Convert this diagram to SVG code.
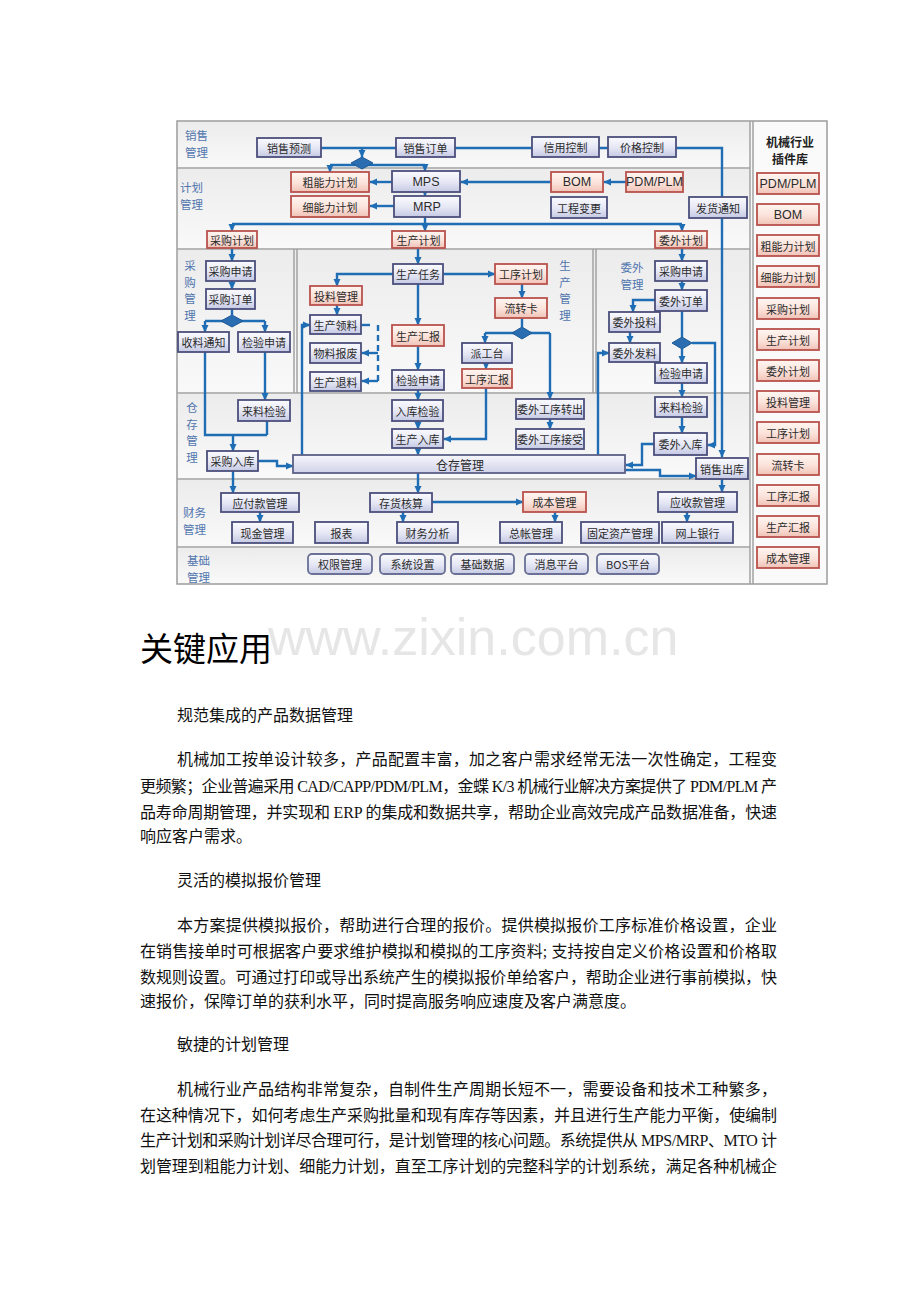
<svg xmlns="http://www.w3.org/2000/svg" width="920" height="1302" viewBox="0 0 920 1302">
<defs>
<linearGradient id="gb" x1="0" y1="0" x2="0" y2="1"><stop offset="0" stop-color="#fbfbfe"/><stop offset="0.55" stop-color="#e4e6f4"/><stop offset="1" stop-color="#c5c9e3"/></linearGradient>
<linearGradient id="gr" x1="0" y1="0" x2="0" y2="1"><stop offset="0" stop-color="#fff6f2"/><stop offset="0.55" stop-color="#fbe2da"/><stop offset="1" stop-color="#f0c2b6"/></linearGradient>
<linearGradient id="gs" x1="0" y1="0" x2="0" y2="1"><stop offset="0" stop-color="#ececec"/><stop offset="1" stop-color="#f9f9f9"/></linearGradient>
<linearGradient id="gw" x1="0" y1="0" x2="0" y2="1"><stop offset="0" stop-color="#f7f7fc"/><stop offset="1" stop-color="#cfd2e8"/></linearGradient>
<marker id="a" markerWidth="8" markerHeight="8" refX="7" refY="4" orient="auto" markerUnits="userSpaceOnUse"><path d="M0,0.5 L7.5,4 L0,7.5 z" fill="#1f6db4"/></marker>
</defs>
<style>
.sec{fill:url(#gs);stroke:none}
.sep{stroke:#a2a2a2;stroke-width:1.5;fill:none}
.b{fill:url(#gb);stroke:#4b4f7c;stroke-width:1.8}
.r{fill:url(#gr);stroke:#b9524c;stroke-width:1.8}
.f{fill:url(#gb);stroke:#6b7196;stroke-width:1.8}
.t{font-family:'Noto Sans CJK SC',sans-serif;font-size:11px;fill:#2b2b2b;text-anchor:middle;dominant-baseline:central}
.te{font-family:'Liberation Sans','Noto Sans CJK SC',sans-serif;font-size:12.5px;fill:#2b2b2b;text-anchor:middle;dominant-baseline:central}
.l{font-family:'Noto Sans CJK SC',sans-serif;font-size:11.5px;fill:#5176ae;dominant-baseline:central}
.lc{font-family:'Noto Sans CJK SC',sans-serif;font-size:11.5px;fill:#5176ae;dominant-baseline:central;text-anchor:middle}
.c{fill:none;stroke:#1f6db4;stroke-width:2.4}
.ca{fill:none;stroke:#1f6db4;stroke-width:2.4;marker-end:url(#a)}
.d{fill:#2a6db0;stroke:#1d5a98;stroke-width:1}
.p{font-family:'Liberation Serif','Noto Sans CJK SC',serif;font-size:16px;fill:#111}
</style>
<rect width="920" height="1302" fill="#ffffff"/>

<g id="frame">
<rect x="177" y="121" width="650" height="463" fill="#f7f7f7" stroke="#9c9c9c" stroke-width="1.5"/>
<rect class="sec" x="178" y="122" width="572" height="45"/>
<rect class="sec" x="178" y="169" width="572" height="79"/>
<rect class="sec" x="178" y="250" width="572" height="142"/>
<rect class="sec" x="178" y="394" width="572" height="84"/>
<rect class="sec" x="178" y="480" width="572" height="66"/>
<rect class="sec" x="178" y="548" width="572" height="35"/>
<rect x="753" y="122" width="73" height="461" fill="#fafafa"/>
<path class="sep" d="M177,168 H750 M177,249 H750 M177,393 H750 M177,479 H750 M177,547 H750"/>
<path class="sep" d="M750,121 V584 M753,121 V584"/>
<path class="sep" d="M294,249 V393 M297,249 V393 M593,249 V393 M596,249 V393"/>
</g>

<g id="labels">
<text class="l" x="185" y="135">销售</text><text class="l" x="185" y="152">管理</text>
<text class="l" x="180" y="187">计划</text><text class="l" x="180" y="204">管理</text>
<text class="lc" x="190" y="265">采</text><text class="lc" x="190" y="281.5">购</text><text class="lc" x="190" y="298">管</text><text class="lc" x="190" y="314.5">理</text>
<text class="lc" x="565" y="265">生</text><text class="lc" x="565" y="281.5">产</text><text class="lc" x="565" y="298">管</text><text class="lc" x="565" y="314.5">理</text>
<text class="lc" x="632" y="267">委外</text><text class="lc" x="632" y="284">管理</text>
<text class="lc" x="192" y="407">仓</text><text class="lc" x="192" y="423.5">存</text><text class="lc" x="192" y="440">管</text><text class="lc" x="192" y="456.5">理</text>
<text class="l" x="183" y="512">财务</text><text class="l" x="183" y="529">管理</text>
<text class="l" x="187" y="560">基础</text><text class="l" x="187" y="577">管理</text>
</g>

<g id="connectors">
<path class="c" d="M321,148 H396 M455,148 H532 M599,148 H608"/>
<path class="ca" d="M676,148 H722 V457"/>
<path class="ca" d="M362,148 V157"/>
<path class="c" d="M330,165 H425"/>
<path class="ca" d="M330,165 V172"/>
<path class="ca" d="M425,165 V171"/>
<path class="ca" d="M551,182 H461"/>
<path class="ca" d="M626,182 H604"/>
<path class="ca" d="M392,182 H370"/>
<path class="ca" d="M394,206 H370"/>
<path class="ca" d="M425,192 V196"/>
<path class="c" d="M425,217 V224 M232,224 H682"/>
<path class="ca" d="M232,224 V231"/>
<path class="ca" d="M425,224 V231"/>
<path class="ca" d="M682,224 V231"/>
<path class="ca" d="M232,248 V261"/>
<path class="ca" d="M232,281 V289"/>
<path class="c" d="M232,309 V315 M205,321 H265"/>
<path class="ca" d="M205,321 V332"/>
<path class="ca" d="M265,321 V332"/>
<path class="c" d="M205,352 V435 H267 M267,421 V435"/>
<path class="ca" d="M265,352 V400"/>
<path class="ca" d="M233,435 V451"/>
<path class="ca" d="M258,461 H277 V466 H293"/>
<path class="ca" d="M233,471 V493"/>
<path class="ca" d="M418,248 V264"/>
<path class="ca" d="M393,274 H337 V286"/>
<path class="ca" d="M337,305 V315"/>
<path class="c" d="M361,325 H370" />
<path class="c" d="M378,325 V383" stroke-dasharray="6,4"/>
<path class="ca" d="M378,353 H362"/>
<path class="ca" d="M378,381 H362"/>
<path class="ca" d="M302,455 V325 H310"/>
<path class="ca" d="M418,284 V325"/>
<path class="ca" d="M418,346 V370"/>
<path class="ca" d="M418,390 V400"/>
<path class="ca" d="M418,421 V429"/>
<path class="ca" d="M418,448 V455"/>
<path class="ca" d="M418,473 V493"/>
<path class="ca" d="M443,274 H495"/>
<path class="ca" d="M522,284 V298"/>
<path class="c" d="M522,318 V327 M485,333 H550"/>
<path class="ca" d="M485,333 V343"/>
<path class="ca" d="M550,333 V399"/>
<path class="ca" d="M486,363 V369"/>
<path class="ca" d="M486,388 V439 H444"/>
<path class="ca" d="M550,419 V429"/>
<path class="ca" d="M682,248 V261"/>
<path class="ca" d="M682,281 V290"/>
<path class="ca" d="M655,300 H633 V312"/>
<path class="ca" d="M630,332 V343"/>
<path class="ca" d="M598,455 V353 H609"/>
<path class="c" d="M682,311 V337"/>
<path class="ca" d="M682,349 V363"/>
<path class="ca" d="M692,343 H715 V445 H708"/>
<path class="ca" d="M682,383 V397"/>
<path class="ca" d="M682,417 V433"/>
<path class="ca" d="M654,444 H642 V465 H626"/>
<path class="ca" d="M625,470 H660 V476 H696"/>
<path class="ca" d="M722,479 V492"/>
<path class="ca" d="M260,512 V522"/>
<path class="ca" d="M403,512 V522"/>
<path class="ca" d="M432,502 H523"/>
<path class="ca" d="M555,512 V522"/>
<path class="ca" d="M687,512 V522"/>
<polygon class="d" points="362,157 373,163 362,169 351,163"/>
<polygon class="d" points="232,315 243,321 232,327 221,321"/>
<polygon class="d" points="522,327 532,333 522,339 512,333"/>
<polygon class="d" points="682,337 692,343 682,349 672,343"/>
</g>

<g id="n-xsyc"><rect class="b" x="257" y="138" width="64" height="19"/><text class="t" x="289" y="147.5">销售预测</text></g>
<g id="n-xsdd"><rect class="b" x="396" y="138" width="59" height="19"/><text class="t" x="425.5" y="147.5">销售订单</text></g>
<g id="n-xykz"><rect class="b" x="532" y="137" width="67" height="20"/><text class="t" x="565.5" y="147">信用控制</text></g>
<g id="n-jgkz"><rect class="b" x="608" y="137" width="68" height="20"/><text class="t" x="642" y="147">价格控制</text></g>

<g id="n-cnljh"><rect class="r" x="291" y="172" width="78" height="20"/><text class="t" x="330" y="182">粗能力计划</text></g>
<g id="n-mps"><rect class="b" x="392" y="171" width="68" height="21"/><text class="te" x="426" y="181.5">MPS</text></g>
<g id="n-xnljh"><rect class="r" x="291" y="196" width="78" height="21"/><text class="t" x="330" y="206.5">细能力计划</text></g>
<g id="n-mrp"><rect class="b" x="394" y="196" width="66" height="21"/><text class="te" x="427" y="206.5">MRP</text></g>
<g id="n-bom"><rect class="r" x="551" y="172" width="52" height="20"/><text class="te" x="577" y="182">BOM</text></g>
<g id="n-pdm"><rect class="r" x="626" y="172" width="57" height="20"/><text class="te" x="654.5" y="182">PDM/PLM</text></g>
<g id="n-gcbg"><rect class="b" x="551" y="197" width="56" height="21"/><text class="t" x="579" y="207.5">工程变更</text></g>
<g id="n-fhtz"><rect class="b" x="689" y="197" width="58" height="21"/><text class="t" x="718" y="207.5">发货通知</text></g>
<g id="n-cgjh"><rect class="r" x="207" y="231" width="50" height="17"/><text class="t" x="232" y="239.5">采购计划</text></g>
<g id="n-scjh"><rect class="r" x="392" y="231" width="53" height="17"/><text class="t" x="418.5" y="239.5">生产计划</text></g>
<g id="n-wwjh"><rect class="r" x="655" y="231" width="52" height="17"/><text class="t" x="681" y="239.5">委外计划</text></g>

<g id="n-cgsq"><rect class="b" x="206" y="261" width="49" height="20"/><text class="t" x="230.5" y="271">采购申请</text></g>
<g id="n-cgdd"><rect class="b" x="206" y="289" width="49" height="20"/><text class="t" x="230.5" y="299">采购订单</text></g>
<g id="n-sltz"><rect class="b" x="178" y="332" width="51" height="20"/><text class="t" x="203.5" y="342">收料通知</text></g>
<g id="n-jysq1"><rect class="b" x="238" y="332" width="52" height="20"/><text class="t" x="264" y="342">检验申请</text></g>

<g id="n-scrw"><rect class="b" x="393" y="264" width="50" height="20"/><text class="t" x="418" y="274">生产任务</text></g>
<g id="n-tlgl"><rect class="r" x="310" y="286" width="52" height="19"/><text class="t" x="336" y="295.5">投料管理</text></g>
<g id="n-scll"><rect class="b" x="310" y="315" width="51" height="19"/><text class="t" x="335.5" y="324.5">生产领料</text></g>
<g id="n-wlbf"><rect class="b" x="310" y="343" width="51" height="20"/><text class="t" x="335.5" y="353">物料报废</text></g>
<g id="n-sctl"><rect class="b" x="310" y="372" width="51" height="19"/><text class="t" x="335.5" y="381.5">生产退料</text></g>
<g id="n-schb"><rect class="r" x="392" y="325" width="52" height="21"/><text class="t" x="418" y="335.5">生产汇报</text></g>
<g id="n-jysq2"><rect class="b" x="392" y="370" width="52" height="20"/><text class="t" x="418" y="380">检验申请</text></g>
<g id="n-gxjh"><rect class="r" x="495" y="264" width="52" height="20"/><text class="t" x="521" y="274">工序计划</text></g>
<g id="n-lzk"><rect class="r" x="495" y="298" width="52" height="20"/><text class="t" x="521" y="308">流转卡</text></g>
<g id="n-pgt"><rect class="b" x="462" y="343" width="50" height="20"/><text class="t" x="487" y="353">派工台</text></g>
<g id="n-gxhb"><rect class="r" x="462" y="369" width="50" height="19"/><text class="t" x="487" y="378.5">工序汇报</text></g>

<g id="n-wwsq"><rect class="b" x="655" y="261" width="52" height="20"/><text class="t" x="681" y="271">采购申请</text></g>
<g id="n-wwdd"><rect class="b" x="655" y="290" width="52" height="21"/><text class="t" x="681" y="300.5">委外订单</text></g>
<g id="n-wwtl"><rect class="b" x="609" y="312" width="51" height="20"/><text class="t" x="634.5" y="322">委外投料</text></g>
<g id="n-wwfl"><rect class="b" x="609" y="343" width="51" height="19"/><text class="t" x="634.5" y="352.5">委外发料</text></g>
<g id="n-jysq3"><rect class="b" x="655" y="363" width="52" height="20"/><text class="t" x="681" y="373">检验申请</text></g>

<g id="n-lljy1"><rect class="b" x="238" y="400" width="52" height="21"/><text class="t" x="264" y="410.5">来料检验</text></g>
<g id="n-cgrk"><rect class="b" x="207" y="451" width="51" height="20"/><text class="t" x="232.5" y="461">采购入库</text></g>
<g id="n-rkjy"><rect class="b" x="392" y="400" width="51" height="21"/><text class="t" x="417.5" y="410.5">入库检验</text></g>
<g id="n-scrk"><rect class="b" x="392" y="429" width="51" height="19"/><text class="t" x="417.5" y="438.5">生产入库</text></g>
<g id="n-wwgxzc"><rect class="b" x="516" y="399" width="68" height="20"/><text class="t" x="550" y="409">委外工序转出</text></g>
<g id="n-wwgxjs"><rect class="b" x="516" y="429" width="68" height="20"/><text class="t" x="550" y="439">委外工序接受</text></g>
<g id="n-lljy2"><rect class="b" x="655" y="397" width="52" height="20"/><text class="t" x="681" y="407">来料检验</text></g>
<g id="n-wwrk"><rect class="b" x="654" y="433" width="53" height="22"/><text class="t" x="680.5" y="444">委外入库</text></g>
<g id="n-ccgl"><rect x="293" y="455" width="332" height="18" fill="url(#gw)" stroke="#5b6088" stroke-width="1.8"/><text class="t" x="460" y="464" style="font-size:12px">仓存管理</text></g>
<g id="n-xsck"><rect class="b" x="696" y="458" width="52" height="21"/><text class="t" x="722" y="468.5">销售出库</text></g>

<g id="n-yfk"><rect class="b" x="221" y="493" width="78" height="19"/><text class="t" x="260" y="502.5">应付款管理</text></g>
<g id="n-xjgl"><rect class="b" x="232" y="522" width="61" height="21"/><text class="t" x="262.5" y="532.5">现金管理</text></g>
<g id="n-bb"><rect class="b" x="315" y="522" width="53" height="21"/><text class="t" x="341.5" y="532.5">报表</text></g>
<g id="n-chhs"><rect class="b" x="370" y="493" width="62" height="19"/><text class="t" x="401" y="502.5">存货核算</text></g>
<g id="n-cwfx"><rect class="b" x="397" y="522" width="61" height="21"/><text class="t" x="427.5" y="532.5">财务分析</text></g>
<g id="n-cbgl"><rect class="r" x="523" y="492" width="63" height="20"/><text class="t" x="554.5" y="502">成本管理</text></g>
<g id="n-zzgl"><rect class="b" x="500" y="522" width="62" height="21"/><text class="t" x="531" y="532.5">总帐管理</text></g>
<g id="n-gdzc"><rect class="b" x="581" y="522" width="78" height="21"/><text class="t" x="620" y="532.5">固定资产管理</text></g>
<g id="n-ysk"><rect class="b" x="658" y="492" width="79" height="20"/><text class="t" x="697.5" y="502">应收款管理</text></g>
<g id="n-wsyh"><rect class="b" x="662" y="522" width="71" height="21"/><text class="t" x="697.5" y="532.5">网上银行</text></g>

<g id="n-qxgl"><rect class="f" x="308" y="554" width="64" height="20" rx="4"/><text class="t" x="340" y="564">权限管理</text></g>
<g id="n-xtsz"><rect class="f" x="380" y="554" width="65" height="20" rx="4"/><text class="t" x="412.5" y="564">系统设置</text></g>
<g id="n-jcsj"><rect class="f" x="451" y="554" width="63" height="20" rx="4"/><text class="t" x="482.5" y="564">基础数据</text></g>
<g id="n-xxpt"><rect class="f" x="525" y="554" width="63" height="20" rx="4"/><text class="t" x="556.5" y="564">消息平台</text></g>
<g id="n-bos"><rect class="f" x="597" y="554" width="62" height="20" rx="4"/><text class="t" x="628" y="564">BOS平台</text></g>

<g id="plugin-lib">
<text x="790" y="141" text-anchor="middle" dominant-baseline="central" font-family="'Noto Sans CJK SC',sans-serif" font-size="12" font-weight="bold" fill="#222">机械行业</text>
<text x="790" y="158" text-anchor="middle" dominant-baseline="central" font-family="'Noto Sans CJK SC',sans-serif" font-size="12" font-weight="bold" fill="#222">插件库</text>
<g id="p1"><rect class="r" x="757" y="173" width="62" height="21"/><text class="te" x="788" y="183.5">PDM/PLM</text></g>
<g id="p2"><rect class="r" x="757" y="204" width="62" height="21"/><text class="te" x="788" y="214.5">BOM</text></g>
<g id="p3"><rect class="r" x="757" y="235" width="62" height="21"/><text class="t" x="788" y="245.5">粗能力计划</text></g>
<g id="p4"><rect class="r" x="757" y="266" width="62" height="21"/><text class="t" x="788" y="276.5">细能力计划</text></g>
<g id="p5"><rect class="r" x="757" y="298" width="62" height="21"/><text class="t" x="788" y="308.5">采购计划</text></g>
<g id="p6"><rect class="r" x="757" y="329" width="62" height="21"/><text class="t" x="788" y="339.5">生产计划</text></g>
<g id="p7"><rect class="r" x="757" y="360" width="62" height="21"/><text class="t" x="788" y="370.5">委外计划</text></g>
<g id="p8"><rect class="r" x="757" y="391" width="62" height="21"/><text class="t" x="788" y="401.5">投料管理</text></g>
<g id="p9"><rect class="r" x="757" y="422" width="62" height="21"/><text class="t" x="788" y="432.5">工序计划</text></g>
<g id="p10"><rect class="r" x="757" y="454" width="62" height="21"/><text class="t" x="788" y="464.5">流转卡</text></g>
<g id="p11"><rect class="r" x="757" y="485" width="62" height="21"/><text class="t" x="788" y="495.5">工序汇报</text></g>
<g id="p12"><rect class="r" x="757" y="516" width="62" height="21"/><text class="t" x="788" y="526.5">生产汇报</text></g>
<g id="p13"><rect class="r" x="757" y="547" width="62" height="21"/><text class="t" x="788" y="557.5">成本管理</text></g>
</g>

<g id="document-text">
<text x="268" y="655" font-family="'Liberation Sans',sans-serif" font-size="52" fill="#e6e6e6">www.zixin.com.cn</text>
<text x="140" y="661" font-family="'Noto Sans CJK SC',sans-serif" font-size="33" fill="#000">关键应用</text>
<text class="p" x="177" y="721">规范集成的产品数据管理</text>
<text class="p" x="177" y="765" textLength="600" lengthAdjust="spacing">机械加工按单设计较多，产品配置丰富，加之客户需求经常无法一次性确定，工程变</text>
<text class="p" x="140" y="792" textLength="637" lengthAdjust="spacing">更频繁；企业普遍采用 CAD/CAPP/PDM/PLM，金蝶 K/3 机械行业解决方案提供了 PDM/PLM 产</text>
<text class="p" x="140" y="818" textLength="637" lengthAdjust="spacing">品寿命周期管理，并实现和 ERP 的集成和数据共享，帮助企业高效完成产品数据准备，快速</text>
<text class="p" x="140" y="842">响应客户需求。</text>
<text class="p" x="177" y="886">灵活的模拟报价管理</text>
<text class="p" x="177" y="931" textLength="600" lengthAdjust="spacing">本方案提供模拟报价，帮助进行合理的报价。提供模拟报价工序标准价格设置，企业</text>
<text class="p" x="140" y="957" textLength="637" lengthAdjust="spacing">在销售接单时可根据客户要求维护模拟和模拟的工序资料; 支持按自定义价格设置和价格取</text>
<text class="p" x="140" y="983" textLength="637" lengthAdjust="spacing">数规则设置。可通过打印或导出系统产生的模拟报价单给客户，帮助企业进行事前模拟，快</text>
<text class="p" x="140" y="1007">速报价，保障订单的获利水平，同时提高服务响应速度及客户满意度。</text>
<text class="p" x="177" y="1050">敏捷的计划管理</text>
<text class="p" x="177" y="1095" textLength="600" lengthAdjust="spacing">机械行业产品结构非常复杂，自制件生产周期长短不一，需要设备和技术工种繁多，</text>
<text class="p" x="140" y="1121" textLength="637" lengthAdjust="spacing">在这种情况下，如何考虑生产采购批量和现有库存等因素，并且进行生产能力平衡，使编制</text>
<text class="p" x="140" y="1146" textLength="637" lengthAdjust="spacing">生产计划和采购计划详尽合理可行，是计划管理的核心问题。系统提供从 MPS/MRP、MTO 计</text>
<text class="p" x="140" y="1172" textLength="637" lengthAdjust="spacing">划管理到粗能力计划、细能力计划，直至工序计划的完整科学的计划系统，满足各种机械企</text>
</g>
</svg>
